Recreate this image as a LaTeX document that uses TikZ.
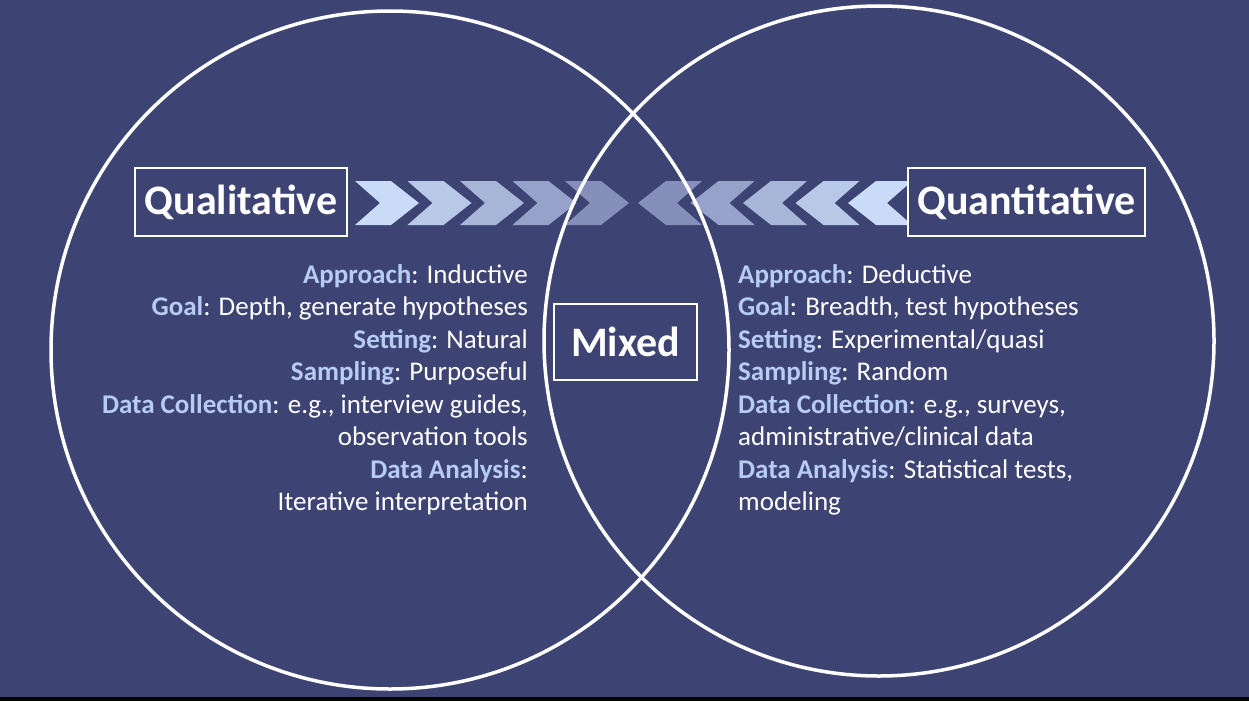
\documentclass[tikz,border=0pt]{standalone}
\usepackage{fontspec}
\setmainfont{Carlito}
\definecolor{bg}{HTML}{3D4473}
\definecolor{lab}{HTML}{B7CCF2}
\definecolor{chA}{HTML}{C9DBF6}
\definecolor{chB}{HTML}{7C84B2}
\newcommand{\lbl}[1]{{\bfseries\color{lab}#1}}
\begin{document}
\begin{tikzpicture}[x=1pt,y=-1pt,
  title/.style={draw=white,line width=2.5pt,fill=bg,text=white,font=\fontsize{42}{46}\selectfont\bfseries,inner sep=0pt,minimum height=68pt},
  info/.style={text=white,font=\fontsize{27}{32.5}\selectfont,inner sep=0pt},
  circ/.style={draw=white,line width=3.5pt}]
\useasboundingbox (0,0) rectangle (1249,701);
\fill[bg] (0,0) rectangle (1249,701);
\fill[black] (0,697) rectangle (1249,701);
% chevrons
\foreach \i in {0,...,4}{
  \pgfmathsetmacro{\p}{\i*22}
  \fill[chB!\p!chA] ({355+52.5*\i},181) -- ++(36,0) -- ++(28,22) -- ++(-28,22) -- ++(-36,0) -- ++(25,-22) -- cycle;
  \fill[chB!\p!chA] ({848-52.5*\i},203) -- ++(28,-22) -- ++(36,0) -- ++(-25,22) -- ++(25,22) -- ++(-36,0) -- cycle;
}
\draw[circ] (390,350) circle (339);
\draw[circ] (879,341) circle (335);
\node[title,minimum width=212pt] (ql) at (241,202) {Qualitative};
\node[title,minimum width=237pt] (qn) at (1026.5,202) {Quantitative};
\node[title,minimum width=143pt,minimum height=76pt] (mx) at (625.5,342) {Mixed};
\node[info,anchor=north east,align=right] (lt) at (528,264) {\lbl{Approach}: Inductive\\
\lbl{Goal}: Depth, generate hypotheses\\
\lbl{Setting}: Natural\\
\lbl{Sampling}: Purposeful\\
\lbl{Data Collection}: e.g., interview guides,\\
observation tools\\
\lbl{Data Analysis}:\\
Iterative interpretation};
\node[info,anchor=north west,align=left] (rt) at (738,264) {\lbl{Approach}: Deductive\\
\lbl{Goal}: Breadth, test hypotheses\\
\lbl{Setting}: Experimental/quasi\\
\lbl{Sampling}: Random\\
\lbl{Data Collection}: e.g., surveys,\\
administrative/clinical data\\
\lbl{Data Analysis}: Statistical tests,\\
modeling};
\end{tikzpicture}
\end{document}
